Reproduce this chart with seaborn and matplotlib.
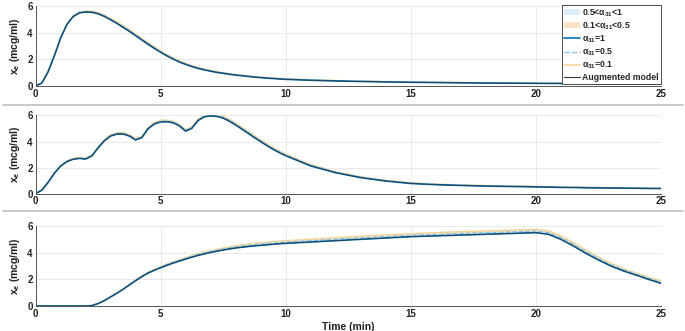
import numpy as np
import pandas as pd
import matplotlib
matplotlib.use("Agg")
import matplotlib.pyplot as plt
import seaborn as sns
from matplotlib.lines import Line2D
from matplotlib.patches import Patch

# time grid (min)
TIME = [0, 0.25, 0.5, 0.75, 1, 1.25, 1.5, 1.75, 2, 2.25, 2.5, 2.75, 3, 3.25, 3.5, 3.75,
        4, 4.25, 4.5, 4.75, 5, 5.25, 5.5, 5.75, 6, 6.25, 6.5, 6.75, 7, 7.25, 7.5, 7.75,
        8, 8.25, 8.5, 8.75, 9, 9.25, 9.5, 9.75, 10,
        11, 12, 13, 14, 15, 16, 17, 18, 19, 20,
        20.5, 21, 21.5, 22, 22.5, 23, 23.5, 24, 24.5, 25]

# panel 1 - single bolus
P1_A1 = [0, 0.22, 1.05, 2.25, 3.58, 4.6, 5.2, 5.48, 5.55, 5.53, 5.42, 5.22, 4.97, 4.7, 4.4, 4.1,
         3.78, 3.45, 3.13, 2.82, 2.53, 2.26, 2.02, 1.8, 1.62, 1.46, 1.32, 1.21, 1.11, 1.02, 0.95, 0.88,
         0.82, 0.77, 0.72, 0.67, 0.63, 0.59, 0.56, 0.53, 0.5,
         0.43, 0.38, 0.34, 0.31, 0.28, 0.26, 0.24, 0.22, 0.21, 0.2,
         0.195, 0.19, 0.185, 0.18, 0.175, 0.17, 0.165, 0.16, 0.155, 0.15]
P1_A05 = [0, 0.22, 1.04, 2.24, 3.58, 4.61, 5.22, 5.51, 5.58, 5.57, 5.46, 5.27, 5.02, 4.75, 4.46, 4.16,
          3.84, 3.51, 3.19, 2.88, 2.59, 2.31, 2.07, 1.85, 1.66, 1.5, 1.36, 1.24, 1.14, 1.05, 0.98, 0.91,
          0.85, 0.79, 0.74, 0.69, 0.65, 0.61, 0.58, 0.55, 0.52,
          0.45, 0.39, 0.35, 0.32, 0.29, 0.27, 0.25, 0.23, 0.22, 0.21,
          0.2, 0.195, 0.19, 0.185, 0.18, 0.175, 0.17, 0.165, 0.16, 0.155]
P1_A01 = [0, 0.21, 1.02, 2.22, 3.57, 4.62, 5.25, 5.55, 5.63, 5.62, 5.52, 5.33, 5.08, 4.82, 4.53, 4.23,
          3.91, 3.58, 3.26, 2.95, 2.65, 2.37, 2.12, 1.9, 1.71, 1.54, 1.4, 1.28, 1.17, 1.08, 1.0, 0.93,
          0.87, 0.81, 0.76, 0.71, 0.67, 0.63, 0.6, 0.57, 0.54,
          0.47, 0.41, 0.37, 0.33, 0.3, 0.28, 0.26, 0.24, 0.23, 0.22,
          0.21, 0.205, 0.2, 0.195, 0.19, 0.185, 0.18, 0.175, 0.17, 0.165]
P1_AUG = P1_A1  # augmented model lies on the a31=1 curve

# panel 2 - repeated boluses
P2_A1 = [0, 0.25, 0.85, 1.55, 2.1, 2.45, 2.63, 2.7, 2.65, 2.88, 3.5, 4.05, 4.42, 4.57, 4.58, 4.42,
         4.12, 4.3, 4.98, 5.35, 5.5, 5.52, 5.44, 5.2, 4.8, 5.02, 5.62, 5.9, 5.97, 5.93, 5.8, 5.56,
         5.27, 4.95, 4.63, 4.3, 3.99, 3.68, 3.4, 3.14, 2.91,
         2.12, 1.6, 1.22, 0.96, 0.77, 0.68, 0.62, 0.57, 0.54, 0.51,
         0.49, 0.47, 0.46, 0.44, 0.43, 0.42, 0.41, 0.4, 0.39, 0.38]
P2_A05 = [0, 0.25, 0.85, 1.56, 2.12, 2.47, 2.66, 2.73, 2.69, 2.92, 3.54, 4.09, 4.47, 4.62, 4.63, 4.48,
          4.18, 4.36, 5.03, 5.4, 5.56, 5.58, 5.5, 5.27, 4.86, 5.08, 5.68, 5.96, 6.03, 6.0, 5.87, 5.63,
          5.34, 5.02, 4.7, 4.37, 4.06, 3.75, 3.46, 3.2, 2.97,
          2.17, 1.64, 1.25, 0.99, 0.8, 0.7, 0.64, 0.59, 0.56, 0.53,
          0.51, 0.49, 0.47, 0.46, 0.45, 0.44, 0.42, 0.41, 0.4, 0.39]
P2_A01 = [0, 0.24, 0.84, 1.56, 2.14, 2.5, 2.7, 2.77, 2.73, 2.96, 3.58, 4.14, 4.53, 4.68, 4.69, 4.54,
          4.24, 4.42, 5.08, 5.46, 5.62, 5.64, 5.56, 5.33, 4.92, 5.14, 5.74, 6.03, 6.1, 6.07, 5.95, 5.71,
          5.42, 5.1, 4.78, 4.45, 4.14, 3.83, 3.54, 3.27, 3.03,
          2.22, 1.68, 1.29, 1.02, 0.83, 0.72, 0.66, 0.61, 0.58, 0.55,
          0.53, 0.51, 0.49, 0.48, 0.47, 0.45, 0.44, 0.43, 0.42, 0.41]
P2_AUG = P2_A1

# panel 3 - infusion
P3_A1 = [0, 0, 0, 0, 0, 0, 0, 0, 0, 0.03, 0.18, 0.4, 0.68, 0.95, 1.25, 1.58,
         1.9, 2.2, 2.47, 2.68, 2.87, 3.05, 3.22, 3.37, 3.52, 3.66, 3.8, 3.91, 4.02, 4.11, 4.2, 4.28,
         4.35, 4.41, 4.46, 4.51, 4.55, 4.59, 4.63, 4.67, 4.7,
         4.8, 4.9, 5.0, 5.1, 5.2, 5.26, 5.32, 5.38, 5.44, 5.5,
         5.38, 5.0, 4.5, 3.95, 3.45, 3.0, 2.63, 2.32, 2.0, 1.7]
P3_A05 = [0, 0, 0, 0, 0, 0, 0, 0, 0, 0.03, 0.18, 0.4, 0.69, 0.96, 1.27, 1.6,
          1.92, 2.22, 2.5, 2.72, 2.92, 3.1, 3.27, 3.43, 3.58, 3.72, 3.86, 3.98, 4.09, 4.18, 4.27, 4.35,
          4.43, 4.49, 4.55, 4.6, 4.64, 4.68, 4.72, 4.76, 4.79,
          4.9, 5.01, 5.11, 5.21, 5.3, 5.37, 5.44, 5.5, 5.56, 5.62,
          5.5, 5.12, 4.62, 4.07, 3.56, 3.1, 2.72, 2.4, 2.08, 1.8]
P3_A01 = [0, 0, 0, 0, 0, 0, 0, 0, 0, 0.03, 0.18, 0.41, 0.7, 0.97, 1.28, 1.62,
          1.94, 2.25, 2.53, 2.75, 2.95, 3.14, 3.31, 3.48, 3.64, 3.79, 3.93, 4.05, 4.16, 4.26, 4.35, 4.43,
          4.51, 4.58, 4.64, 4.69, 4.74, 4.78, 4.82, 4.86, 4.89,
          5.01, 5.12, 5.23, 5.33, 5.42, 5.5, 5.57, 5.63, 5.69, 5.75,
          5.63, 5.25, 4.75, 4.19, 3.67, 3.2, 2.8, 2.48, 2.16, 1.88]
P3_AUG = P3_A1

X_TICKS = [0, 5, 10, 15, 20, 25]
Y_TICKS = [0, 2, 4, 6]
LEGEND_LABELS = [r"0.5<$\alpha_{31}$<1", r"0.1<$\alpha_{31}$<0.5", r"$\alpha_{31}$=1",
                 r"$\alpha_{31}$=0.5", r"$\alpha_{31}$=0.1", "Augmented model"]

BLUE = "#0072BD"
LIGHT_BLUE = "#86C3EA"
PALE_ORANGE = "#F4D59A"
BAND_BLUE = "#DCEEFA"
BAND_ORANGE = "#F9E3C4"
AUG = "#333333"

sns.set_theme(style="white")
plt.rcParams["font.family"] = ["Liberation Sans", "DejaVu Sans"]
plt.rcParams["font.weight"] = "bold"
plt.rcParams["mathtext.fontset"] = "custom"
plt.rcParams["mathtext.rm"] = "Liberation Sans:bold"
plt.rcParams["mathtext.it"] = "Liberation Sans:bold"
plt.rcParams["mathtext.bf"] = "Liberation Sans:bold"

W, H = 685, 331
fig = plt.figure(figsize=(W / 100, H / 100), dpi=100)

# axes boxes in pixels: (top of y=6, bottom of y=0)
boxes = [(6, 86), (115.5, 193.5), (226, 306)]
left_px, right_px = 35.5, 661

panels = [(P1_A1, P1_A05, P1_A01, P1_AUG),
          (P2_A1, P2_A05, P2_A01, P2_AUG),
          (P3_A1, P3_A05, P3_A01, P3_AUG)]

t = np.array(TIME)
axes = []
for (top, bot), (a1, a05, a01, aug) in zip(boxes, panels):
    ax = fig.add_axes([left_px / W, 1 - bot / H, (right_px - left_px) / W, (bot - top) / H])
    axes.append(ax)
    ax.fill_between(t, a1, a05, color=BAND_BLUE, lw=0)
    ax.fill_between(t, a05, a01, color=BAND_ORANGE, lw=0)
    df = pd.DataFrame({"time": TIME, "a1": a1, "a05": a05, "a01": a01, "aug": aug})
    sns.lineplot(data=df, x="time", y="a01", ax=ax, color=PALE_ORANGE, lw=1.1, errorbar=None)
    sns.lineplot(data=df, x="time", y="a05", ax=ax, color=LIGHT_BLUE, lw=0.9, linestyle="--",
                 errorbar=None)
    sns.lineplot(data=df, x="time", y="a1", ax=ax, color=BLUE, lw=1.2, errorbar=None)
    sns.lineplot(data=df, x="time", y="aug", ax=ax, color=AUG, lw=0.5, errorbar=None)

    ax.set_xlim(0, 25)
    ax.set_ylim(0, 6)
    ax.set_xticks(X_TICKS)
    ax.set_yticks(Y_TICKS)
    ax.grid(True, color="#E6E6E6", lw=0.6)
    ax.set_axisbelow(True)
    for s in ["top", "right"]:
        ax.spines[s].set_visible(False)
    for s in ["left", "bottom"]:
        ax.spines[s].set_color("#555555")
        ax.spines[s].set_linewidth(0.7)
    ax.tick_params(direction="in", length=3, width=0.6, colors="#555555",
                   labelcolor="#222222", labelsize=7, pad=2)
    for lbl in ax.get_xticklabels() + ax.get_yticklabels():
        lbl.set_fontweight("bold")
    ax.set_xlabel("")
    ax.set_ylabel(r"x$_{e}$ (mcg/ml)", fontsize=7.5, fontweight="bold", color="#222222", labelpad=4)

axes[2].set_xlabel("Time (min)", fontsize=7.5, fontweight="bold", color="#222222", labelpad=2)

# legend on top panel
handles = [Patch(facecolor=BAND_BLUE, edgecolor="none"),
           Patch(facecolor=BAND_ORANGE, edgecolor="none"),
           Line2D([], [], color=BLUE, lw=1.2),
           Line2D([], [], color=LIGHT_BLUE, lw=1.0, linestyle="--"),
           Line2D([], [], color=PALE_ORANGE, lw=1.2),
           Line2D([], [], color=AUG, lw=0.8)]
leg = axes[0].legend(handles, LEGEND_LABELS, loc="upper right", bbox_to_anchor=(1.0, 1.01),
                     fontsize=6.3, frameon=True, fancybox=False, framealpha=1, edgecolor="#333333",
                     borderaxespad=0, borderpad=0.25, labelspacing=0.18, handlelength=1.9,
                     handletextpad=0.2)
leg.get_frame().set_linewidth(0.6)
for txt in leg.get_texts():
    txt.set_fontweight("bold")

# grey separators between panels
for yp in [105.5, 211]:
    fig.add_artist(Line2D([3 / W, 683 / W], [1 - yp / H, 1 - yp / H], transform=fig.transFigure,
                          color="#C4C4C4", lw=1.3))

fig.savefig("out.png", dpi=100)
